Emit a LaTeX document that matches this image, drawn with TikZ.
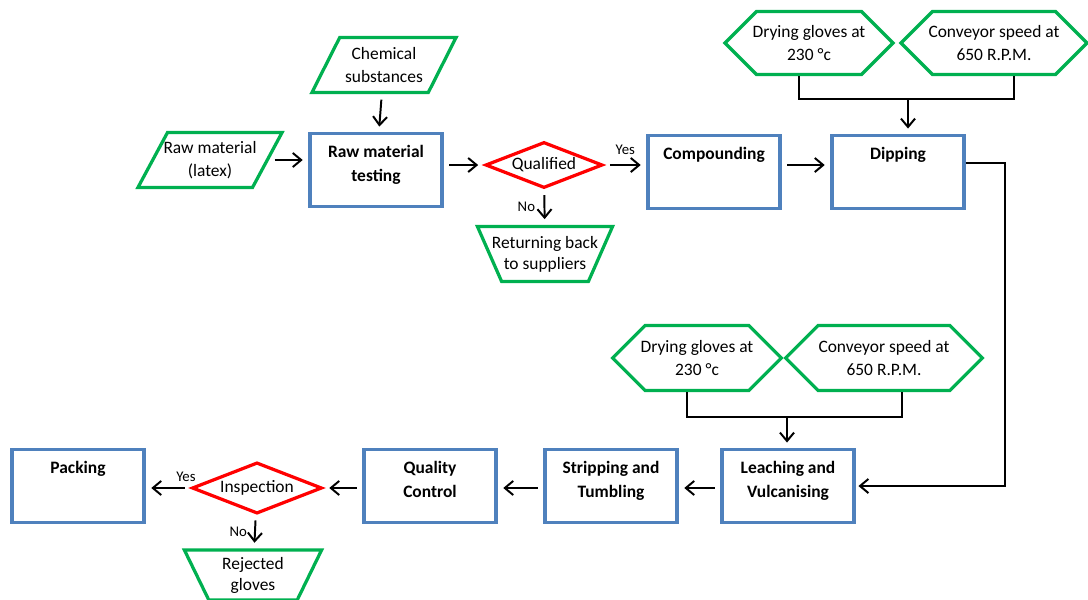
\documentclass[tikz,border=0pt]{standalone}
\usepackage{fontspec}
\setmainfont{Carlito}
\usepackage{tikz}
\usetikzlibrary{shapes.geometric,shapes.symbols,arrows.meta}
\definecolor{boxblue}{RGB}{79,129,189}
\definecolor{ingreen}{RGB}{0,176,80}
\definecolor{askred}{RGB}{255,0,0}
\newcommand{\boxtext}[1]{\parbox[c][1.25cm][t]{2.8cm}{\centering\bfseries\fontsize{12.4}{17}\selectfont #1}}
\newcommand{\ctxt}[1]{\makebox[0pt]{#1}}

\begin{document}
\begin{tikzpicture}[x=0.025cm, y=-0.025cm,
	font=\fontsize{12.4}{16.5}\selectfont,
	procbox/.style={draw=boxblue, line width=2.3pt, inner xsep=0.25cm, inner ysep=0.28cm},
	inbox/.style={trapezium, trapezium stretches body=true, trapezium left angle=52, trapezium right angle=128, draw=ingreen, line width=2.3pt, inner sep=0pt, minimum width=3.6cm, minimum height=1.37cm, align=center},
	outbox/.style={trapezium, trapezium stretches body=true, shape border rotate=180, trapezium left angle=56, trapezium right angle=56, draw=ingreen, line width=2.3pt, inner sep=0pt, align=center, font=\fontsize{12.4}{15}\selectfont},
	askbox/.style={diamond, draw=askred, line width=2.3pt, inner sep=0pt},
	setbox/.style={signal, signal to=west and east, signal pointer angle=90, draw=ingreen, line width=2.3pt, inner sep=0pt, align=center},
	flow/.style={line width=1.4pt, -{Straight Barb[length=6pt,width=10pt]}, shorten <=4pt, shorten >=4pt},
	link/.style={line width=1.4pt},
	lbl/.style={font=\fontsize{10.5}{11}\selectfont, inner sep=1pt}]
	\useasboundingbox (0,0) rectangle (1088,600);
	
	\node[inbox] (rawlatex) at (210,160) {\ctxt{Raw material}\\\ctxt{(latex)}};
	\node[inbox] (chem) at (384,65) {\ctxt{Chemical}\\\ctxt{substances}};
	\node[procbox] (test) at (376,170) {\boxtext{Raw material\\testing}};
	\node[askbox, minimum width=2.93cm, minimum height=1.15cm] (qual) at (544,165) {\ctxt{Qualified}};
	\node[outbox, minimum width=3.38cm, minimum height=1.38cm] (ret) at (545,254) {\ctxt{Returning back}\\\ctxt{to suppliers}};
	\node[procbox] (comp) at (714,172) {\boxtext{Compounding}};
	\node[procbox] (dip) at (898,172) {\boxtext{Dipping}};
	\node[setbox, minimum width=4.2cm, minimum height=1.58cm] (dryA) at (809,43) {\ctxt{Drying gloves at}\\\ctxt{230 °c}};
	\node[setbox, minimum width=4.65cm, minimum height=1.58cm] (convA) at (994,43) {\ctxt{Conveyor speed at}\\\ctxt{650 R.P.M.}};
	
	\node[setbox, minimum width=4.22cm, minimum height=1.62cm] (dryB) at (697,358) {\ctxt{Drying gloves at}\\\ctxt{230 °c}};
	\node[setbox, minimum width=4.92cm, minimum height=1.62cm] (convB) at (884,358) {\ctxt{Conveyor speed at}\\\ctxt{650 R.P.M.}};
	\node[procbox] (leach) at (788,486) {\boxtext{Leaching and\\Vulcanising}};
	\node[procbox] (strip) at (611,486) {\boxtext{Stripping and\\Tumbling}};
	\node[procbox] (qc) at (430,486) {\boxtext{Quality\\Control}};
	\node[askbox, minimum width=3.25cm, minimum height=1.28cm] (insp) at (257,488) {\ctxt{Inspection}};
	\node[procbox] (pack) at (78,486) {\boxtext{Packing}};
	\node[outbox, minimum width=3.43cm, minimum height=1.25cm] (rej) at (253,575) {\ctxt{Rejected}\\\ctxt{gloves}};
	
	\coordinate (jA) at (908,99);
	\coordinate (jB) at (787,417);
	\coordinate (turn) at (1005,163);
	
	\draw[flow] (rawlatex.east) -- (test.west |- rawlatex.east);
	\draw[flow] (chem) -- (test);
	\draw[flow] (test.east |- qual) -- (qual.west);
	\draw[flow] (qual.east) -- (comp.west |- qual) node[lbl, midway, above=6pt] (yesA) {Yes};
	\draw[flow] (qual) -- (ret) node[lbl, midway, left=5pt] (noA) {No};
	\draw[flow] (comp.east |- qual) -- (dip.west |- qual);
	\draw[link] ([xshift=-0.25cm]dryA.south) |- (jA) -| ([xshift=0.5cm]convA.south);
	\draw[flow, shorten <=0pt] (jA) -- (jA |- dip.north);
	\draw[flow, shorten <=0pt, shorten >=2pt] (dip.east |- turn) -- (turn) |- (leach.east);
	
	\draw[link] ([xshift=-0.26cm]dryB.south) |- (jB) -| ([xshift=0.44cm]convB.south);
	\draw[flow, shorten <=0pt] (jB) -- (jB |- leach.north);
	\draw[flow] (leach.west |- insp) -- (strip.east |- insp);
	\draw[flow] (strip.west |- insp) -- (qc.east |- insp);
	\draw[flow] (qc.west |- insp) -- (insp.east);
	\draw[flow] (insp.west) -- (pack.east |- insp) node[lbl, pos=0.1, above=3pt] (yesB) {Yes};
	\draw[flow] (insp) -- (rej) node[lbl, midway, left=4pt] (noB) {No};
\end{tikzpicture}
\end{document}
